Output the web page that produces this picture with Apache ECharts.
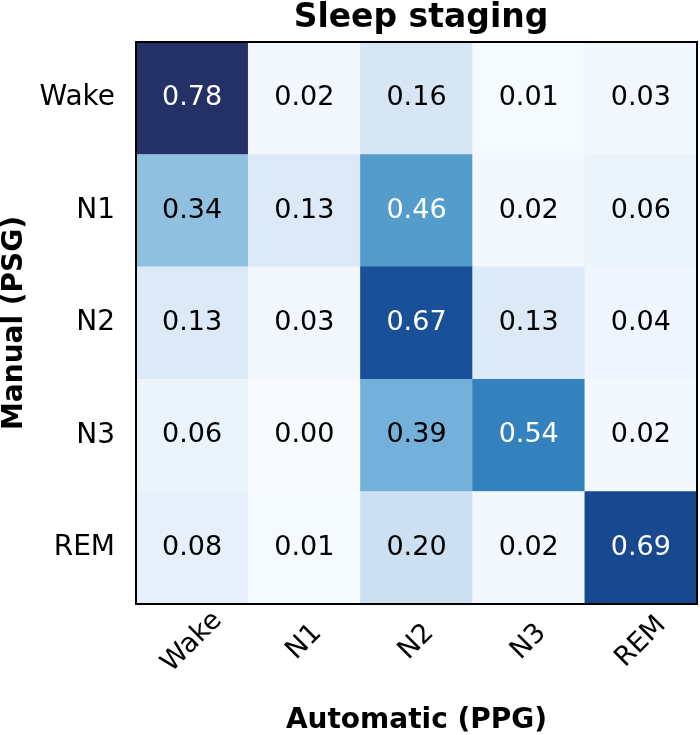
<!DOCTYPE html>
<html><head><meta charset="utf-8">
<script src="https://cdn.jsdelivr.net/npm/echarts@6/dist/echarts.min.js"></script>
<style>html,body{margin:0;padding:0;background:#fff}#c{width:700px;height:735px}</style>
</head><body><div id="c"></div>
<script>
const stages = ['Wake', 'N1', 'N2', 'N3', 'REM'];
const rowWake = [0.78, 0.02, 0.16, 0.01, 0.03];
const rowN1   = [0.34, 0.13, 0.46, 0.02, 0.06];
const rowN2   = [0.13, 0.03, 0.67, 0.13, 0.04];
const rowN3   = [0.06, 0.00, 0.39, 0.54, 0.02];
const rowREM  = [0.08, 0.01, 0.20, 0.02, 0.69];
const rows = [rowWake, rowN1, rowN2, rowN3, rowREM];

const FONT = 'DejaVu Sans';
const vmax = Math.max(...rows.flat());
const data = [];
rows.forEach((r, i) => r.forEach((v, j) => {
  data.push({
    value: [j, i, v],
    label: { color: v > vmax / 2 ? '#ffffff' : '#000000' }
  });
}));

const chart = echarts.init(document.getElementById('c'), null, { renderer: 'canvas' });
chart.setOption({
  animation: false,
  backgroundColor: '#ffffff',
  title: {
    text: 'Sleep staging',
    left: 416, top: -3, textAlign: 'center',
    textStyle: { fontFamily: FONT, fontWeight: 'bold', fontSize: 33, color: '#000' }
  },
  grid: {
    left: 136, top: 42, width: 561, height: 562,
    outerBoundsMode: 'none', containLabel: false,
    show: true, borderColor: '#000', borderWidth: 2,
    backgroundColor: 'transparent', z: 5
  },
  xAxis: {
    type: 'category', data: stages, z: 5,
    name: 'Automatic (PPG)', nameLocation: 'middle', nameGap: 103,
    nameTextStyle: { fontFamily: FONT, fontWeight: 'bold', fontSize: 28, color: '#000' },
    axisLine: { lineStyle: { color: '#000', width: 2 } },
    axisTick: { alignWithLabel: true, length: 9, lineStyle: { color: '#000', width: 1.5 } },
    axisLabel: { rotate: 45, align: 'center', verticalAlign: 'middle', margin: 38,
      fontFamily: FONT, fontSize: 27, color: '#000' },
    splitLine: { show: false }
  },
  yAxis: {
    type: 'category', data: stages, inverse: true, z: 5,
    name: 'Manual (PSG)', nameLocation: 'middle', nameGap: 106, nameRotate: 90,
    nameTextStyle: { fontFamily: FONT, fontWeight: 'bold', fontSize: 28, color: '#000' },
    axisLine: { lineStyle: { color: '#000', width: 2 } },
    axisTick: { alignWithLabel: true, length: 9, lineStyle: { color: '#000', width: 1.5 } },
    axisLabel: { margin: 21, fontFamily: FONT, fontSize: 28, color: '#000' },
    splitLine: { show: false }
  },
  visualMap: {
    show: false, min: 0, max: vmax, dimension: 2,
    inRange: { color: ['#f7fbff', '#e3eef9', '#cfe1f2', '#abd0e6', '#73b0da', '#4694c7', '#2373b6', '#174b94', '#243166'] }
  },
  series: [{
    type: 'heatmap', data: data,
    itemStyle: { borderWidth: 0 },
    label: { show: true, fontFamily: FONT, fontSize: 27,
      formatter: p => p.value[2].toFixed(2) },
    emphasis: { disabled: true }
  }]
});
</script></body></html>
